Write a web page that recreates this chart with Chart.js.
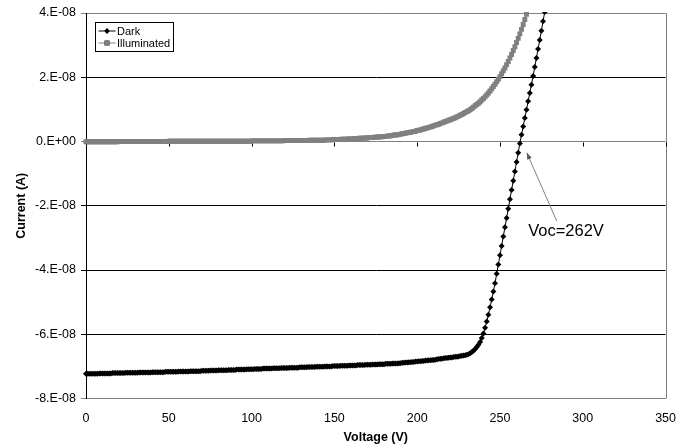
<!DOCTYPE html>
<html>
<head>
<meta charset="utf-8">
<script src="https://cdn.jsdelivr.net/npm/chart.js@4.4.1/dist/chart.umd.min.js"></script>
<style>
  html, body { margin: 0; padding: 0; background: #fff; }
  #wrap { width: 689px; height: 447px; }
</style>
</head>
<body>
<div id="wrap"><canvas id="ivChart" width="689" height="447"></canvas></div>
<script>
// Voltage (V), 1 V steps
const voltage = [
  0,1,2,3,4,5,6,7,8,9,10,11,12,13,14,15,16,17,18,19,
  20,21,22,23,24,25,26,27,28,29,30,31,32,33,34,35,36,37,38,39,
  40,41,42,43,44,45,46,47,48,49,50,51,52,53,54,55,56,57,58,59,
  60,61,62,63,64,65,66,67,68,69,70,71,72,73,74,75,76,77,78,79,
  80,81,82,83,84,85,86,87,88,89,90,91,92,93,94,95,96,97,98,99,
  100,101,102,103,104,105,106,107,108,109,110,111,112,113,114,115,116,117,118,119,
  120,121,122,123,124,125,126,127,128,129,130,131,132,133,134,135,136,137,138,139,
  140,141,142,143,144,145,146,147,148,149,150,151,152,153,154,155,156,157,158,159,
  160,161,162,163,164,165,166,167,168,169,170,171,172,173,174,175,176,177,178,179,
  180,181,182,183,184,185,186,187,188,189,190,191,192,193,194,195,196,197,198,199,
  200,201,202,203,204,205,206,207,208,209,210,211,212,213,214,215,216,217,218,219,
  220,221,222,223,224,225,226,227,228,229,230,231,232,233,234,235,236,237,238,239,
  240,241,242,243,244,245,246,247,248,249,250,251,252,253,254,255,256,257,258,259,
  260,261,262,263,264,265,266,267,268,269,270,271,272,273,274,275,276,277
];

// current in units of 1E-08 A
const darkCurrent = [
  -7.23,-7.23,-7.23,-7.23,-7.23,-7.23,-7.23,-7.23,-7.22,-7.22,
  -7.22,-7.22,-7.22,-7.22,-7.22,-7.22,-7.21,-7.21,-7.21,-7.21,
  -7.21,-7.21,-7.21,-7.21,-7.20,-7.20,-7.20,-7.20,-7.20,-7.20,
  -7.20,-7.20,-7.19,-7.19,-7.19,-7.19,-7.19,-7.19,-7.19,-7.19,
  -7.18,-7.18,-7.18,-7.18,-7.18,-7.18,-7.18,-7.18,-7.17,-7.17,
  -7.17,-7.17,-7.17,-7.17,-7.17,-7.17,-7.16,-7.16,-7.16,-7.16,
  -7.16,-7.16,-7.16,-7.15,-7.15,-7.15,-7.15,-7.15,-7.15,-7.15,
  -7.14,-7.14,-7.14,-7.14,-7.14,-7.13,-7.13,-7.13,-7.13,-7.13,
  -7.12,-7.12,-7.12,-7.12,-7.12,-7.12,-7.11,-7.11,-7.11,-7.11,
  -7.11,-7.10,-7.10,-7.10,-7.10,-7.10,-7.10,-7.09,-7.09,-7.09,
  -7.09,-7.09,-7.08,-7.08,-7.08,-7.08,-7.08,-7.07,-7.07,-7.07,
  -7.07,-7.07,-7.07,-7.06,-7.06,-7.06,-7.06,-7.06,-7.05,-7.05,
  -7.05,-7.05,-7.05,-7.04,-7.04,-7.04,-7.04,-7.04,-7.04,-7.03,
  -7.03,-7.03,-7.03,-7.03,-7.02,-7.02,-7.02,-7.02,-7.02,-7.01,
  -7.01,-7.01,-7.01,-7.01,-7.00,-7.00,-7.00,-7.00,-7.00,-6.99,
  -6.99,-6.99,-6.99,-6.99,-6.98,-6.98,-6.98,-6.98,-6.98,-6.97,
  -6.97,-6.97,-6.97,-6.97,-6.96,-6.96,-6.96,-6.96,-6.96,-6.95,
  -6.95,-6.95,-6.95,-6.94,-6.94,-6.94,-6.94,-6.93,-6.93,-6.93,
  -6.93,-6.92,-6.92,-6.92,-6.92,-6.91,-6.91,-6.91,-6.91,-6.90,
  -6.90,-6.89,-6.89,-6.88,-6.88,-6.87,-6.87,-6.86,-6.86,-6.85,
  -6.85,-6.84,-6.84,-6.83,-6.83,-6.82,-6.82,-6.81,-6.81,-6.80,
  -6.80,-6.79,-6.78,-6.77,-6.76,-6.76,-6.75,-6.74,-6.74,-6.73,
  -6.72,-6.72,-6.71,-6.70,-6.70,-6.69,-6.68,-6.67,-6.66,-6.65,
  -6.64,-6.62,-6.59,-6.55,-6.51,-6.46,-6.40,-6.33,-6.24,-6.12,
  -5.98,-5.80,-5.60,-5.39,-5.16,-4.92,-4.67,-4.41,-4.12,-3.83,
  -3.54,-3.25,-2.96,-2.67,-2.38,-2.09,-1.80,-1.51,-1.22,-0.93,
  -0.64,-0.35,-0.06,0.21,0.47,0.73,0.99,1.25,1.51,1.77,
  2.04,2.32,2.60,2.88,3.16,3.45,3.74,4.03
];

const illumCurrent = [
  -0.01,-0.01,-0.01,-0.01,-0.01,-0.01,-0.01,-0.01,-0.01,-0.01,
  -0.01,-0.01,-0.01,-0.01,-0.01,-0.01,-0.01,-0.01,-0.01,-0.01,
  0.00,0.00,0.00,0.00,0.00,0.00,0.00,0.00,0.00,0.00,
  0.00,0.00,0.00,0.00,0.00,0.00,0.00,0.00,0.00,0.00,
  0.00,0.00,0.00,0.00,0.00,0.00,0.00,0.00,0.00,0.00,
  0.01,0.01,0.01,0.01,0.01,0.01,0.01,0.01,0.01,0.01,
  0.01,0.01,0.01,0.01,0.01,0.01,0.01,0.01,0.01,0.01,
  0.01,0.01,0.01,0.01,0.01,0.01,0.01,0.01,0.01,0.01,
  0.01,0.01,0.01,0.01,0.01,0.01,0.01,0.01,0.01,0.01,
  0.01,0.01,0.01,0.01,0.01,0.01,0.01,0.01,0.01,0.01,
  0.02,0.02,0.02,0.02,0.02,0.02,0.02,0.02,0.02,0.02,
  0.02,0.02,0.02,0.02,0.02,0.02,0.02,0.02,0.02,0.02,
  0.03,0.03,0.03,0.03,0.03,0.03,0.03,0.03,0.03,0.03,
  0.03,0.03,0.03,0.03,0.03,0.04,0.04,0.04,0.04,0.04,
  0.04,0.04,0.04,0.04,0.04,0.05,0.05,0.05,0.05,0.05,
  0.06,0.06,0.06,0.06,0.07,0.07,0.07,0.07,0.08,0.08,
  0.08,0.08,0.09,0.09,0.09,0.10,0.10,0.10,0.11,0.11,
  0.11,0.12,0.12,0.12,0.13,0.13,0.14,0.14,0.15,0.15,
  0.16,0.16,0.17,0.17,0.18,0.19,0.20,0.20,0.21,0.22,
  0.23,0.24,0.25,0.26,0.27,0.28,0.29,0.30,0.31,0.32,
  0.34,0.35,0.36,0.38,0.39,0.41,0.42,0.44,0.45,0.47,
  0.49,0.51,0.52,0.54,0.56,0.58,0.60,0.62,0.64,0.66,
  0.68,0.70,0.72,0.74,0.77,0.79,0.82,0.84,0.87,0.90,
  0.93,0.96,0.99,1.03,1.07,1.11,1.15,1.19,1.24,1.29,
  1.34,1.39,1.45,1.51,1.57,1.64,1.71,1.78,1.86,1.94,
  2.02,2.11,2.20,2.29,2.39,2.49,2.60,2.71,2.83,2.95,
  3.08,3.21,3.35,3.49,3.64,3.80,3.96,4.12
];

const seriesNames = ['Dark', 'Illuminated'];
const yTickValues = [-8, -6, -4, -2, 0, 2, 4];
const yTickLabels = ['-8.E-08', '-6.E-08', '-4.E-08', '-2.E-08', '0.E+00', '2.E-08', '4.E-08'];
const vocText = 'Voc=262V';
// arrow tail, arrow tip, text anchor (V, 1E-08 A)
const vocArrowTail = [284.3, -2.48];
const vocArrowTip = [266.2, -0.35];
const vocTextAt = [267, -2.81];

const FONT = '"Liberation Sans", Arial, sans-serif';
const GREY = '#808080';

const crisp = v => Math.round(v) + 0.5;

const decorPlugin = {
    id: 'decor',
    beforeDatasetsDraw(chart) {
        const { ctx, chartArea: a, scales: { x, y } } = chart;
        ctx.save();
        ctx.lineWidth = 1;
        // right border of plot area
        ctx.strokeStyle = GREY;
        ctx.beginPath();
        ctx.moveTo(crisp(a.right), a.top);
        ctx.lineTo(crisp(a.right), a.bottom);
        ctx.stroke();
        // x tick marks hang from the zero line
        const y0 = crisp(y.getPixelForValue(0));
        ctx.strokeStyle = '#000';
        ctx.beginPath();
        x.ticks.forEach(t => {
            const px = crisp(x.getPixelForValue(t.value));
            ctx.moveTo(px, y0);
            ctx.lineTo(px, y0 + 4);
        });
        ctx.stroke();
        ctx.restore();
    },
    afterDatasetsDraw(chart) {
        const { ctx, chartArea: a, scales: { x, y } } = chart;
        ctx.save();

        // annotation arrow
        const tx = x.getPixelForValue(vocArrowTail[0]), ty = y.getPixelForValue(vocArrowTail[1]);
        const hx = x.getPixelForValue(vocArrowTip[0]), hy = y.getPixelForValue(vocArrowTip[1]);
        ctx.strokeStyle = GREY;
        ctx.fillStyle = '#555';
        ctx.lineWidth = 1;
        ctx.beginPath();
        ctx.moveTo(tx, ty);
        ctx.lineTo(hx, hy);
        ctx.stroke();
        const ang = Math.atan2(hy - ty, hx - tx);
        ctx.beginPath();
        ctx.moveTo(hx, hy);
        ctx.lineTo(hx - 7 * Math.cos(ang - 0.35), hy - 7 * Math.sin(ang - 0.35));
        ctx.lineTo(hx - 7 * Math.cos(ang + 0.35), hy - 7 * Math.sin(ang + 0.35));
        ctx.closePath();
        ctx.fill();

        ctx.fillStyle = '#000';
        ctx.font = '16.5px ' + FONT;
        ctx.textAlign = 'left';
        ctx.textBaseline = 'middle';
        ctx.fillText(vocText, x.getPixelForValue(vocTextAt[0]), y.getPixelForValue(vocTextAt[1]));

        // legend box
        const lx = a.left + 9.5, ly = a.top + 9.5, lw = 78, lh = 29;
        ctx.fillStyle = '#fff';
        ctx.fillRect(lx, ly, lw, lh);
        ctx.strokeStyle = '#000';
        ctx.strokeRect(lx, ly, lw, lh);
        const styles = chart.data.datasets;
        ctx.font = '11px ' + FONT;
        styles.forEach((ds, i) => {
            const cy = ly + 8.5 + i * 12;
            ctx.strokeStyle = ds.borderColor;
            ctx.lineWidth = 1;
            ctx.beginPath();
            ctx.moveTo(lx + 3, cy);
            ctx.lineTo(lx + 20, cy);
            ctx.stroke();
            Chart.helpers.drawPoint(ctx, {
                pointStyle: ds.pointStyle, radius: ds.pointRadius, borderWidth: 0, rotation: 0
            }, lx + 11.5, cy);
            ctx.fillStyle = ds.backgroundColor;
            ctx.fill();
            ctx.fillStyle = '#000';
            ctx.fillText(ds.label, lx + 21.5, cy + 0.5);
        });
        ctx.restore();
    }
};

new Chart(document.getElementById('ivChart'), {
    type: 'line',
    data: {
        labels: voltage,
        datasets: [
            {
                label: seriesNames[0],
                data: darkCurrent,
                borderColor: '#000',
                backgroundColor: '#000',
                borderWidth: 1,
                pointStyle: 'rectRot',
                pointRadius: 3,
                pointBorderWidth: 0,
                tension: 0,
                clip: { left: 4, top: 1, right: 4, bottom: 4 }
            },
            {
                label: seriesNames[1],
                data: illumCurrent,
                borderColor: GREY,
                backgroundColor: GREY,
                borderWidth: 1,
                pointStyle: 'rect',
                pointRadius: 3.5,
                pointBorderWidth: 0,
                tension: 0,
                clip: { left: 4, top: 1, right: 4, bottom: 4 }
            }
        ]
    },
    options: {
        responsive: false,
        animation: false,
        layout: { padding: { top: 13, right: 21, left: 0, bottom: 0 } },
        plugins: {
            legend: { display: false },
            tooltip: { enabled: false }
        },
        scales: {
            x: {
                type: 'linear',
                min: 0,
                max: 350,
                afterFit: s => { s.height = 48.5; },
                ticks: {
                    stepSize: 50,
                    color: '#000',
                    padding: 13,
                    maxRotation: 0,
                    font: { family: FONT, size: 12.5 }
                },
                grid: { display: false, drawTicks: false },
                border: { display: true, color: GREY, width: 1 },
                title: {
                    display: true,
                    text: 'Voltage (V)',
                    color: '#000',
                    font: { family: FONT, size: 12.5, weight: 'bold' },
                    padding: { top: 0, bottom: 1.5 }
                }
            },
            y: {
                min: -8,
                max: 4,
                afterFit: s => { s.width = 86; },
                afterBuildTicks: s => { s.ticks = yTickValues.map(v => ({ value: v })); },
                ticks: {
                    color: '#000',
                    padding: 5,
                    font: { family: FONT, size: 12.5 },
                    callback: v => yTickLabels[yTickValues.indexOf(v)]
                },
                grid: {
                    color: c => (c.tick && (c.tick.value === 0 || c.tick.value === -8 || c.tick.value === 4)) ? GREY : '#000',
                    lineWidth: 1,
                    tickLength: 5
                },
                border: { display: true, color: '#000', width: 1 },
                title: {
                    display: true,
                    text: 'Current (A)',
                    color: '#000',
                    font: { family: FONT, size: 12.5, weight: 'bold' },
                    padding: { top: 14, bottom: 0 }
                }
            }
        }
    },
    plugins: [decorPlugin]
});
</script>
</body>
</html>
